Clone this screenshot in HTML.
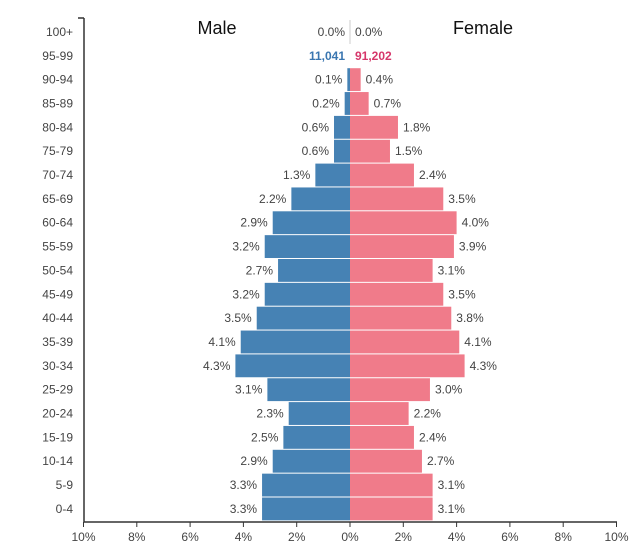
<!DOCTYPE html>
<html><head><meta charset="utf-8"><style>
body{margin:0;background:#fff;}
svg{display:block;font-family:"Liberation Sans",Arial,sans-serif;}
</style></head><body>
<svg id="chart" width="640" height="554">
<g id="axes"></g><g id="bars"></g>
</svg>
<script>
const ageGroups=["100+","95-99","90-94","85-89","80-84","75-79","70-74","65-69","60-64","55-59","50-54","45-49","40-44","35-39","30-34","25-29","20-24","15-19","10-14","5-9","0-4"];
const maleValues=[0.0,0.0,0.1,0.2,0.6,0.6,1.3,2.2,2.9,3.2,2.7,3.2,3.5,4.1,4.3,3.1,2.3,2.5,2.9,3.3,3.3];
const femaleValues=[0.0,0.0,0.4,0.7,1.8,1.5,2.4,3.5,4.0,3.9,3.1,3.5,3.8,4.1,4.3,3.0,2.2,2.4,2.7,3.1,3.1];
const maleLabels=["0.0%","11,041","0.1%","0.2%","0.6%","0.6%","1.3%","2.2%","2.9%","3.2%","2.7%","3.2%","3.5%","4.1%","4.3%","3.1%","2.3%","2.5%","2.9%","3.3%","3.3%"];
const femaleLabels=["0.0%","91,202","0.4%","0.7%","1.8%","1.5%","2.4%","3.5%","4.0%","3.9%","3.1%","3.5%","3.8%","4.1%","4.3%","3.0%","2.2%","2.4%","2.7%","3.1%","3.1%"];
const tickValues=[-10,-8,-6,-4,-2,0,2,4,6,8,10];
const NS="http://www.w3.org/2000/svg";
const cx=350,unit=26.65,plotTop=20,band=23.85;
const plotBottom=522;
const xScale=v=>cx+v*unit;
const yScale=i=>plotTop+i*band;
function mk(tag,attrs,parent,text){const e=document.createElementNS(NS,tag);for(const k in attrs)e.setAttribute(k,attrs[k]);if(text!==undefined)e.textContent=text;parent.appendChild(e);return e;}
const axes=document.getElementById('axes'),bars=document.getElementById('bars');
let yl=mk('line',{x1:84,x2:84,y1:18,y2:plotBottom,stroke:'#333','stroke-width':1.5},axes);

let tk=mk('line',{x1:78,x2:84,y1:18,y2:18,stroke:'#333','stroke-width':1.5},axes);

let xl=mk('line',{x1:84,x2:617,y1:plotBottom,y2:plotBottom,stroke:'#333','stroke-width':1.5},axes);

let cl=mk('line',{x1:cx,x2:cx,y1:20,y2:44,stroke:'#ccc','stroke-width':1},axes);

tickValues.forEach(v=>{
 const x=xScale(v);
 let t=mk('line',{x1:x,x2:x,y1:plotBottom,y2:plotBottom+5,stroke:'#333','stroke-width':1},axes);
 
 let l=mk('text',{x:x,y:plotBottom+19,'text-anchor':'middle','font-size':12,fill:'#444'},axes,Math.abs(v)+'%');
 
});
let mt=mk('text',{x:217,y:34,'text-anchor':'middle','font-size':18,fill:'#111'},axes,'Male');

let ft=mk('text',{x:483,y:34,'text-anchor':'middle','font-size':18,fill:'#111'},axes,'Female');

ageGroups.forEach((g,i)=>{
 const y=yScale(i),h=band-1,my=y+band/2+4;
 let al=mk('text',{x:73,y:my,'text-anchor':'end','font-size':12,fill:'#444'},axes,g);
 
 const mx=xScale(-maleValues[i]);
 let mb=mk('rect',{x:mx,y:y+0.5,width:cx-mx,height:h,fill:'#4682b4'},bars);
 
 const fx=xScale(femaleValues[i]);
 let fb=mk('rect',{x:cx,y:y+0.5,width:fx-cx,height:h,fill:'#f07b8a'},bars);
 
 const special=i===1;
 let ml=mk('text',{x:mx-5,y:my,'text-anchor':'end','font-size':12,fill:special?'#3a76b0':'#444','font-weight':special?'bold':'normal'},bars,maleLabels[i]);
 
 let fl=mk('text',{x:fx+5,y:my,'text-anchor':'start','font-size':12,fill:special?'#d6366a':'#444','font-weight':special?'bold':'normal'},bars,femaleLabels[i]);
 
});
</script>
</body></html>
